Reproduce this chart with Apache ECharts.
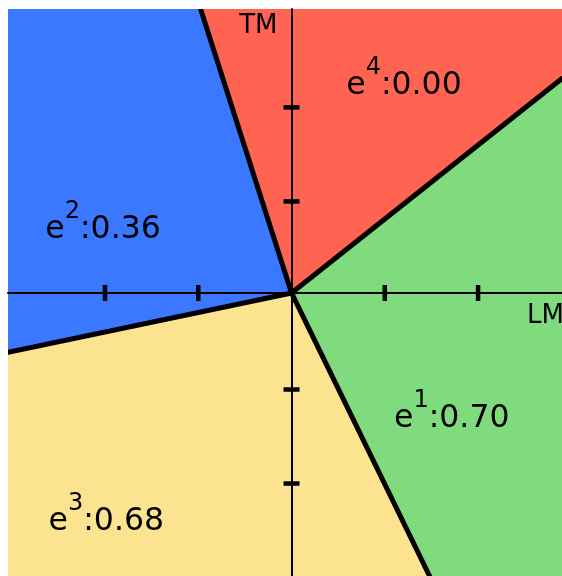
<!DOCTYPE html>
<html>
<head>
<meta charset="utf-8">
<script src="https://cdn.jsdelivr.net/npm/echarts@6/dist/echarts.min.js"></script>
<style>
html,body{margin:0;padding:0;background:#fff;}
#chart{width:562px;height:576px;}
</style>
</head>
<body>
<div id="chart"></div>
<script>
// ---- data (axis units) ----
const xRange = [-3.04, 2.9];
const yRange = [-3.01, 3.02];
const origin = [0, 0];
// boundary rays from origin to the plot edge
const rayTop = [-0.975, 3.02];
const rayRight = [2.9, 2.28];
const rayBottom = [1.48, -3.01];
const rayLeft = [-3.04, -0.63];
// regions
const regionSup = ['1', '2', '3', '4'];
const regionValues = [0.70, 0.36, 0.68, 0.00];
const labelAnchors = [[1.718, -1.34], [-2.021, 0.67], [-1.986, -2.43], [1.206, 2.205]];
// ticks
const tickValues = [-2, -1, 1, 2];
const axisNames = ['LM', 'TM'];

const regionColors = ['#80db7e', '#3a78ff', '#fbe390', '#ff6352'];

const regionPolys = [
  [origin, rayRight, [xRange[1], yRange[0]], rayBottom],
  [origin, rayLeft, [xRange[0], yRange[1]], rayTop],
  [origin, rayBottom, [xRange[0], yRange[0]], rayLeft],
  [origin, rayTop, [xRange[1], yRange[1]], rayRight]
];
const rays = [rayTop, rayRight, rayBottom, rayLeft];

const chart = echarts.init(document.getElementById('chart'), null, {renderer: 'canvas'});
const FONT = 'DejaVu Sans';

const option = {
  backgroundColor: '#fff',
  animation: false,
  grid: {left: 8, top: 9, right: 0, bottom: 0, containLabel: false, outerBoundsMode: 'none'},
  xAxis: {
    type: 'value', min: xRange[0], max: xRange[1], z: 3,
    axisLine: {onZero: true, lineStyle: {color: '#000', width: 2}},
    axisTick: {show: false}, axisLabel: {show: false}, splitLine: {show: false},
    name: axisNames[0], nameLocation: 'end', nameGap: -35,
    nameTextStyle: {fontFamily: FONT, fontSize: 26, color: '#000', align: 'left', verticalAlign: 'top', padding: [10, 0, 0, 0]}
  },
  yAxis: {
    type: 'value', min: yRange[0], max: yRange[1], z: 3,
    axisLine: {onZero: true, lineStyle: {color: '#000', width: 2}},
    axisTick: {show: false}, axisLabel: {show: false}, splitLine: {show: false},
    name: axisNames[1], nameLocation: 'end', nameGap: -30,
    nameTextStyle: {fontFamily: FONT, fontSize: 26, color: '#000', align: 'right', verticalAlign: 'bottom', padding: [0, 14, 0, 0]}
  },
  series: [
    {
      type: 'custom', z: 1, clip: true, silent: true,
      data: regionPolys.map((p, i) => [i]),
      renderItem: function (params, api) {
        const i = api.value(0);
        return {
          type: 'polygon',
          shape: {points: regionPolys[i].map(pt => api.coord(pt))},
          style: {fill: regionColors[i], stroke: regionColors[i], lineWidth: 1}
        };
      }
    },
    {
      type: 'custom', z: 5, clip: true, silent: true,
      data: rays.map((r, i) => [i]),
      renderItem: function (params, api) {
        const r = rays[api.value(0)];
        const a = api.coord(origin), b = api.coord(r);
        return {
          type: 'line',
          shape: {x1: a[0], y1: a[1], x2: b[0], y2: b[1]},
          style: {stroke: '#000', lineWidth: 5, lineCap: 'round'}
        };
      }
    },
    {
      type: 'scatter', z: 4, silent: true,
      symbol: 'rect', symbolSize: [4.5, 16],
      itemStyle: {color: '#000', opacity: 1},
      data: tickValues.map(v => [v, 0])
    },
    {
      type: 'scatter', z: 4, silent: true,
      symbol: 'rect', symbolSize: [16, 4.5], symbolOffset: [0, 2.5],
      itemStyle: {color: '#000', opacity: 1},
      data: tickValues.map(v => [0, v])
    },
    {
      type: 'scatter', z: 6, silent: true,
      symbolSize: 0,
      itemStyle: {opacity: 1},
      data: labelAnchors.map((a, i) => ({value: a})),
      label: {
        show: true, position: 'inside', align: 'center', verticalAlign: 'middle',
        color: '#000', opacity: 1, textBorderWidth: 0,
        formatter: function (p) {
          const i = p.dataIndex;
          return '{m|e}{s|' + regionSup[i] + '}{m|:' + regionValues[i].toFixed(2) + '}';
        },
        rich: {
          m: {fontFamily: FONT, fontSize: 31.5, color: '#000', opacity: 1},
          s: {fontFamily: FONT, fontSize: 24, color: '#000', opacity: 1, padding: [0, 0, 36, 0]}
        }
      },
      emphasis: {disabled: true}
    }
  ]
};
chart.setOption(option);
</script>
</body>
</html>
